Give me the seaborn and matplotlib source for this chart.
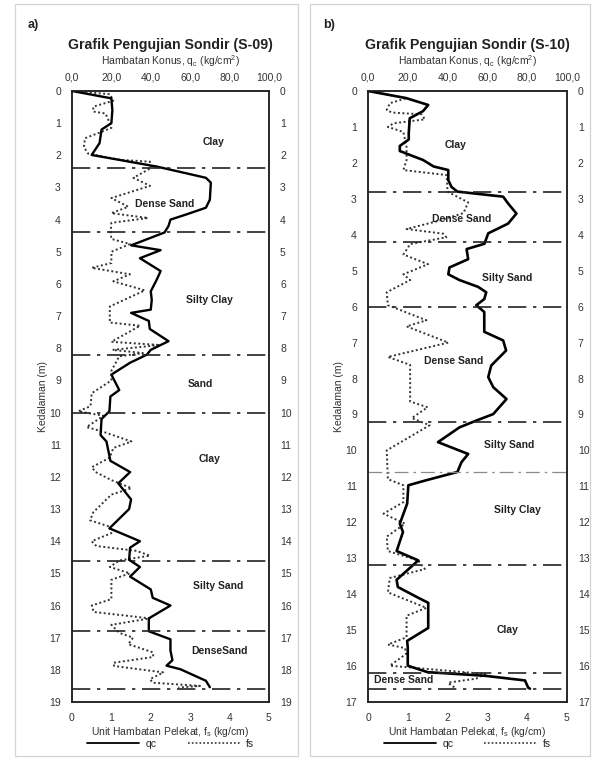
import matplotlib
matplotlib.use("Agg")
import matplotlib.pyplot as plt
from matplotlib.lines import Line2D
from matplotlib.patches import Rectangle
import numpy as np
import pandas as pd
import seaborn as sns

# ---- S-09 sounding ----
s09_qc_depth = [0, 0.23, 0.6, 1.0, 1.2, 1.62, 1.99, 2.35, 2.7, 2.85, 3.38, 3.63, 3.84, 4.0, 4.2,
                4.4, 4.8, 4.95, 5.2, 5.6, 5.87, 6.23, 6.5, 6.8, 6.9, 7.15, 7.4, 7.78, 8.05, 8.2,
                8.45, 8.82, 9.3, 9.5, 9.96, 10.2, 10.7, 10.9, 11.5, 11.85, 12.2, 12.7, 13.0, 13.6,
                14.0, 14.2, 14.58, 14.8, 15.1, 15.5, 15.76, 16.0, 16.4, 16.8, 17.05, 17.4, 17.7,
                17.87, 17.98, 18.34, 18.54]
s09_qc = [0, 20, 20.5, 20, 15, 14, 10, 43, 68, 70.5, 70, 68, 58, 50, 49,
          47, 30, 45, 34.5, 45, 43, 40, 40.5, 40, 30, 39, 39.5, 49, 40, 38,
          29.5, 20, 24, 19.5, 19, 15, 14.5, 17.5, 19.5, 29.5, 23.5, 30, 29, 19,
          34.5, 29.5, 29, 34.5, 29.5, 40, 41, 50, 39, 39, 50, 50, 51,
          48, 55, 68, 70]
s09_fs_depth = [0, 0.1, 0.3, 0.49, 0.64, 0.7, 1.0, 1.15, 1.47, 1.74, 1.95, 2.14, 2.2, 2.4, 2.7,
                2.95, 3.33, 3.6, 3.8, 3.95, 4.1, 4.4, 4.6, 4.76, 5.0, 5.35, 5.5, 5.7, 5.92, 6.2,
                6.7, 7.2, 7.3, 7.8, 7.9, 8.05, 8.15, 8.25, 8.7, 9.0, 9.4, 9.8, 9.96, 10.1, 10.45,
                10.6, 10.9, 11.1, 11.4, 11.7, 11.85, 12.1, 12.35, 12.55, 13.1, 13.35, 13.55, 13.75,
                14.0, 14.15, 14.3, 14.45, 14.6, 14.8, 15.0, 15.2, 15.8, 16.0, 16.2, 16.4, 16.6,
                16.85, 17.0, 17.2, 17.46, 17.6, 17.78, 17.88, 18.08, 18.29, 18.4, 18.5, 18.55]
s09_fs = [0, 0.96, 1.05, 0.54, 0.54, 0.85, 0.96, 1.0, 0.33, 0.3, 0.41, 1.22, 1.98, 2.0, 1.56,
          1.98, 1.0, 1.43, 1.0, 1.93, 1.0, 0.98, 1.0, 1.47, 1.0, 1.0, 0.5, 1.47, 1.05, 1.85,
          0.96, 0.96, 1.73, 1.0, 2.23, 1.03, 1.8, 1.2, 1.0, 1.0, 0.5, 0.47, 0.16, 0.8, 0.37,
          0.8, 1.51, 1.05, 0.96, 0.5, 0.6, 1.0, 1.51, 1.0, 0.54, 0.46, 0.96, 1.0,
          0.5, 0.62, 1.64, 1.98, 1.2, 0.96, 1.47, 1.0, 1.0, 0.5, 0.55, 1.98, 1.0,
          1.2, 1.55, 1.43, 2.06, 2.06, 1.05, 1.07, 2.32, 1.98, 2.05, 3.25, 2.7]
s09_layers = [2.4, 4.4, 8.2, 10.0, 14.6, 16.8, 18.6]
s09_soil = ["Clay", "Dense Sand", "Silty Clay", "Sand", "Clay", "Silty Sand", "DenseSand"]
s09_soil_depth = [1.6, 3.5, 6.5, 9.1, 11.45, 15.4, 17.4]
s09_soil_qc = [72, 47, 70, 65, 70, 74, 75]

# ---- S-10 sounding ----
s10_qc_depth = [0, 0.2, 0.39, 0.56, 0.76, 1.18, 1.35, 1.53, 1.67, 1.8, 1.92, 2.1, 2.2, 2.48, 2.67,
                2.8, 2.94, 3.13, 3.41, 3.69, 3.96, 4.25, 4.4, 4.68, 4.91, 5.1, 5.26, 5.45, 5.6,
                5.79, 5.96, 6.15, 6.7, 6.94, 7.22, 7.64, 7.96, 8.24, 8.57, 8.99, 9.17, 9.36, 9.77,
                10.1, 10.33, 10.6, 10.83, 10.97, 11.48, 12.04, 12.27, 12.8, 13.06, 13.6, 13.8,
                14.1, 14.24, 14.94, 15.3, 15.48, 15.99, 16.17, 16.27, 16.4, 16.6, 16.63]
s10_qc = [0, 19.3, 30.3, 27.7, 21, 20.5, 20.5, 16, 16, 22, 27.7, 33, 40.4, 40.4, 42,
          45, 68, 70.5, 74.7, 70.5, 60.5, 58.6, 49.6, 50.4, 41, 40.4, 46, 55.4, 59.5,
          58.5, 54.5, 58.5, 58.5, 68, 69.5, 62, 60.5, 63, 69.7, 63, 54.5, 46, 35.2,
          50.4, 47, 45, 29.3, 20.3, 19.7, 16, 17.6, 14.4, 25.3, 14.4, 15,
          25.3, 30.3, 30.3, 19.7, 20, 20, 30, 58.8, 79, 80.6, 81.5]
s10_fs_depth = [0, 0.2, 0.34, 0.53, 0.6, 0.65, 0.79, 0.9, 1.0, 1.14, 1.56, 1.92, 2.2, 2.34, 2.8,
                3.1, 3.4, 3.63, 3.84, 3.97, 4.07, 4.26, 4.55, 4.82, 5.1, 5.26, 5.6, 5.96, 6.38,
                6.55, 7.0, 7.4, 7.62, 8.64, 8.8, 9.1, 9.3, 10.0, 10.8, 10.97, 11.44, 11.76, 12.04,
                12.4, 12.8, 13.06, 13.3, 13.55, 13.95, 14.38, 14.6, 15.2, 15.4, 15.5, 15.66,
                15.99, 16.22, 16.35, 16.46, 16.55, 16.6]
s10_fs = [0, 0.97, 0.55, 0.47, 0.6, 1.35, 1.43, 0.64, 0.5, 0.89, 0.97, 0.97, 0.89, 1.98, 2.0,
          2.52, 2.4, 1.72, 0.97, 1.89, 1.97, 1.06, 0.89, 1.51, 0.89, 1.06, 0.47, 0.5, 1.47,
          0.97, 2.02, 0.5, 1.06, 1.06, 1.5, 1.1, 1.55, 0.47, 0.5, 0.89, 0.89, 0.39, 0.93,
          0.47, 0.5, 1.26, 1.43, 0.55, 0.5, 1.47, 0.97, 0.97, 0.5, 0.93, 0.96,
          0.55, 2.95, 2.72, 2.02, 2.1, 2.2]
s10_layers = [2.8, 4.2, 6.0, 9.2, 10.6, 13.2, 16.2, 16.63]
s10_soil = ["Clay", "Dense Sand", "Silty Sand", "Dense Sand", "Silty Sand", "Silty Clay", "Clay",
            "Dense Sand"]
s10_soil_depth = [1.5, 3.55, 5.2, 7.5, 9.85, 11.65, 15.0, 16.4]
s10_soil_qc = [44, 47, 70, 43, 71, 75, 70, 18]

qc_ticks = [0, 20, 40, 60, 80, 100]
qc_tick_labels = ["0,0", "20,0", "40,0", "60,0", "80,0", "100,0"]
fs_ticks = [0, 1, 2, 3, 4, 5]

sns.set_theme(style="white")
plt.rcParams["font.family"] = ["Liberation Sans", "DejaVu Sans"]
plt.rcParams["mathtext.fontset"] = "custom"
plt.rcParams["mathtext.rm"] = "Liberation Sans"
plt.rcParams["mathtext.it"] = "Liberation Sans"

fig = plt.figure(figsize=(5.95, 7.6), dpi=100)

# Panel frames
for x0, w in [(15, 283), (310, 280)]:
    fig.add_artist(Rectangle((x0 / 595, 4 / 760), w / 595, 752 / 760, transform=fig.transFigure,
                             fill=False, edgecolor="#d4d4d4", linewidth=0.9))

DASHDOT = (0, (11, 4, 2, 4))
DOTTED = (0, (1, 1.3))


def draw_panel(left, width, max_depth, qc_d, qc, fs_d, fs, layers, soil, soil_d, soil_qc,
               title, tag, qc_lw, faint_layer=None):
    ax = fig.add_axes([left, 0.0763, width, 0.804])
    axq = ax.twiny()

    fs_df = pd.DataFrame({"fs": fs, "depth": fs_d})
    qc_df = pd.DataFrame({"qc": qc, "depth": qc_d})
    sns.lineplot(data=fs_df, x="fs", y="depth", sort=False, estimator=None, orient="y",
                 ax=ax, color="#333333", linewidth=1.4, linestyle=DOTTED)
    sns.lineplot(data=qc_df, x="qc", y="depth", sort=False, estimator=None, orient="y",
                 ax=axq, color="black", linewidth=qc_lw)

    ax.set_xlim(0, 5)
    axq.set_xlim(0, 100)
    ax.set_ylim(max_depth, 0)
    ax.set_xticks(fs_ticks)
    ax.set_xticklabels([str(t) for t in fs_ticks])
    axq.set_xticks(qc_ticks)
    axq.set_xticklabels(qc_tick_labels)
    ax.set_yticks(range(0, max_depth + 1))
    ax.tick_params(axis="y", length=0, left=False, right=False, labelleft=True,
                   labelright=True, labelsize=7.5, pad=8, colors="#333333")
    ax.tick_params(axis="x", length=0, bottom=False, labelsize=7.5, pad=8, colors="#333333")
    axq.tick_params(axis="x", length=0, top=False, labelsize=7.5, pad=6, colors="#333333")
    ax.set_xlabel("Unit Hambatan Pelekat, f$_{\\rm s}$ (kg/cm)", fontsize=7.5,
                  color="#333333", labelpad=1)
    axq.set_xlabel("")
    ax.set_ylabel("Kedalaman (m)", fontsize=7.5, color="#333333", labelpad=1)
    for a in (ax, axq):
        for s in a.spines.values():
            s.set_color("#222222")
            s.set_linewidth(1.1)

    for d in layers:
        if faint_layer is not None and abs(d - faint_layer) < 1e-6:
            axq.axhline(d, color="#8a8a8a", linewidth=0.9, linestyle=DASHDOT)
        else:
            axq.axhline(d, color="#222222", linewidth=1.2, linestyle=DASHDOT)

    for name, d, q in zip(soil, soil_d, soil_qc):
        axq.text(q, d, name, ha="center", va="center", fontsize=7.5, fontweight="bold",
                 color="#222222")

    cx = left + width / 2
    fig.text(cx, 1 - 45 / 760, title, ha="center", va="center", fontsize=10.2,
             fontweight="bold", color="#222222")
    fig.text(cx, 1 - 61 / 760, "Hambatan Konus, q$_{\\rm c}$ (kg/cm$^{2}$)", ha="center",
             va="center", fontsize=7.5, color="#333333")
    fig.text(left - 0.075, 1 - 25 / 760, tag, ha="left", va="center", fontsize=9,
             fontweight="bold", color="#222222")

    handles = [Line2D([], [], color="black", linewidth=1.3),
               Line2D([], [], color="#333333", linewidth=1.2, linestyle=DOTTED)]
    fig.legend(handles, ["qc", "fs"], loc="center", bbox_to_anchor=(cx, 1 - 744 / 760),
               ncol=2, frameon=False, fontsize=7.5, handlelength=5, columnspacing=3,
               handletextpad=0.6)
    return ax


draw_panel(0.121, 0.331, 19, s09_qc_depth, s09_qc, s09_fs_depth, s09_fs, s09_layers,
           s09_soil, s09_soil_depth, s09_soil_qc, "Grafik Pengujian Sondir (S-09)", "a)", 1.7)
draw_panel(0.6185, 0.334, 17, s10_qc_depth, s10_qc, s10_fs_depth, s10_fs, s10_layers,
           s10_soil, s10_soil_depth, s10_soil_qc, "Grafik Pengujian Sondir (S-10)", "b)", 1.9,
           faint_layer=10.6)

fig.savefig("out.png", dpi=100, facecolor="white")
